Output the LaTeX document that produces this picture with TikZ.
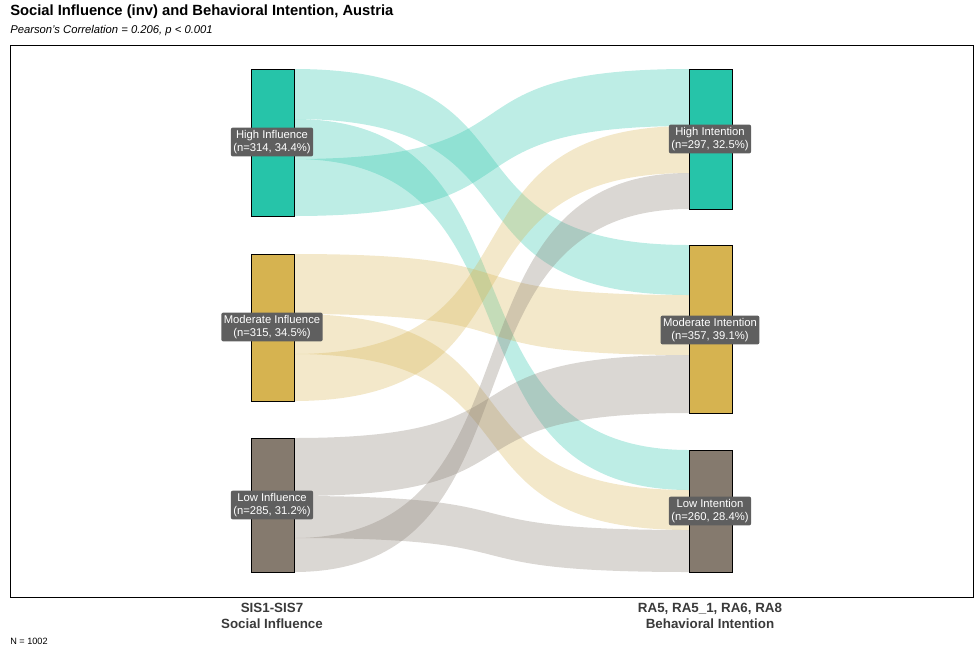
\documentclass[tikz,border=0pt]{standalone}
\usepackage{fontspec}
\setmainfont{Liberation Sans}
\usetikzlibrary{positioning}

\definecolor{hiC}{HTML}{26C4A9}
\definecolor{moC}{HTML}{D6B350}
\definecolor{loC}{HTML}{857A6E}
\definecolor{lblC}{HTML}{5F5F5F}
\definecolor{axC}{HTML}{3A3A3A}

% ribbon: colour, left top, left bottom, right top, right bottom
\newcommand{\ribbon}[5]{%
  \fill[#1, opacity=0.3] (294,#2) .. controls (555,#2) and (428,#4) .. (689,#4)
    -- (689,#5) .. controls (428,#5) and (555,#3) .. (294,#3) -- cycle;}

\begin{document}
\begin{tikzpicture}[x=0.025cm, y=-0.025cm,
    bar/.style={draw=black, line width=0.6pt},
    lbl/.style={fill=lblC, text=white, rounded corners=1.5pt, align=center,
                font=\fontsize{8}{9.5}\selectfont, inner sep=1.8pt},
    axlbl/.style={text=axC, align=center, font=\bfseries\fontsize{9.5}{11}\selectfont}
]
    \useasboundingbox (0,0) rectangle (980,653);
    \node[anchor=north west, inner sep=0, font=\bfseries\fontsize{10.5}{12}\selectfont] (title) at (10,5) {Social Influence (inv) and Behavioral Intention, Austria};
    \node[anchor=north west, inner sep=0, font=\itshape\fontsize{8}{10}\selectfont] (sub) at (10,25) {Pearson's Correlation = 0.206, p < 0.001};
    \draw[line width=0.5pt] (10,45) rectangle (973,597);

    % flows from high influence
    \ribbon{hiC}{69}{119}{245}{295}
    \ribbon{hiC}{119}{159}{450}{490}
    \ribbon{hiC}{159}{216}{69}{126}
    % flows from moderate influence
    \ribbon{moC}{254}{314}{295}{355}
    \ribbon{moC}{314}{354}{490}{530}
    \ribbon{moC}{354}{401}{126}{173}
    % flows from low influence
    \ribbon{loC}{438}{496}{355}{413}
    \ribbon{loC}{496}{538}{530}{572}
    \ribbon{loC}{538}{572}{173}{209}

    % strata
    \draw[bar, fill=hiC] (251,69) rectangle (294,216);
    \draw[bar, fill=moC] (251,254) rectangle (294,401);
    \draw[bar, fill=loC] (251,438) rectangle (294,572);
    \draw[bar, fill=hiC] (689,69) rectangle (732,209);
    \draw[bar, fill=moC] (689,245) rectangle (732,413);
    \draw[bar, fill=loC] (689,450) rectangle (732,572);

    \node[lbl] (hiIn) at (272,142) {High Influence\\(n=314, 34.4\%)};
    \node[lbl] (moIn) at (272,327) {Moderate Influence\\(n=315, 34.5\%)};
    \node[lbl] (loIn) at (272,505) {Low Influence\\(n=285, 31.2\%)};
    \node[lbl] (hiInt) at (710,139) {High Intention\\(n=297, 32.5\%)};
    \node[lbl] (moInt) at (710,330) {Moderate Intention\\(n=357, 39.1\%)};
    \node[lbl] (loInt) at (710,511) {Low Intention\\(n=260, 28.4\%)};

    \node[axlbl] (axL) at (272,616) {SIS1-SIS7\\Social Influence};
    \node[axlbl] (axR) at (710,616) {RA5, RA5\_1, RA6, RA8\\Behavioral Intention};
    \node[anchor=west, inner sep=0, font=\fontsize{6.5}{8}\selectfont] (nTot) at (10,641) {N = 1002};
\end{tikzpicture}
\end{document}
